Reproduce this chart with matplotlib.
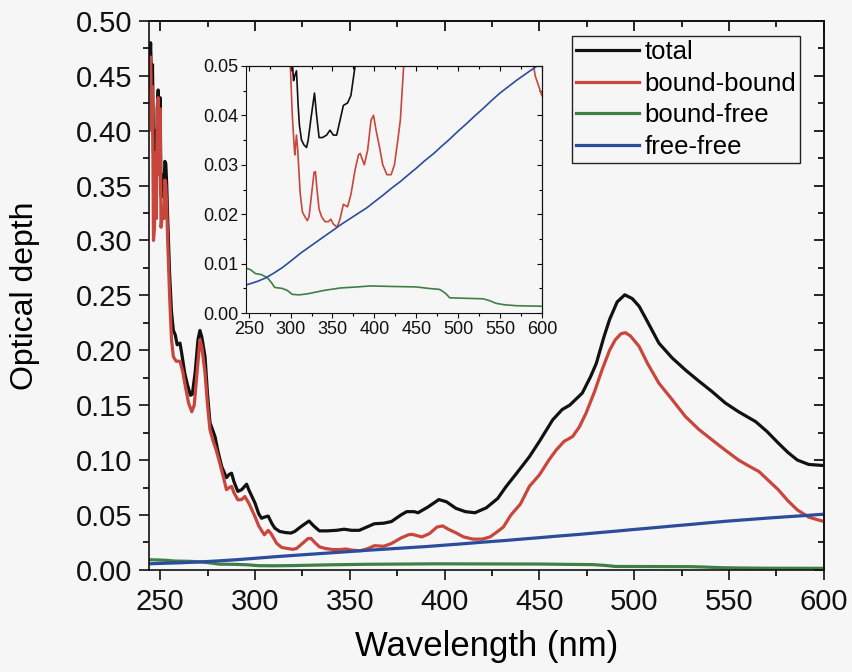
import matplotlib
matplotlib.use("Agg")
import matplotlib.pyplot as plt
from matplotlib.ticker import MultipleLocator, FormatStrFormatter

plt.rcParams['font.family'] = ['Liberation Sans', 'DejaVu Sans']

# wavelength (nm) / optical depth
total_wl = [244.3, 245.0, 245.5, 246.0, 246.5, 247.0, 247.5, 248.0, 248.5, 249.0, 249.5,
            250.0, 250.5, 251.0, 251.5, 252.0, 252.5, 253.0, 253.5, 254.0, 255.0, 256.0,
            257.0, 258.0, 259.0, 260.5, 261.5, 263.0, 264.5, 266.0, 267.0, 268.5, 270.0,
            271.0, 272.0, 273.7, 275.0, 276.3, 278.0, 279.0, 280.5, 282.5, 285.0, 286.5,
            287.7, 289.0, 291.0, 293.0, 295.6, 297.0, 300.0, 302.0, 303.5, 305.0, 307.0,
            309.0, 310.5, 313.0, 316.0, 319.0, 321.0, 324.0, 328.5, 331.0, 334.0, 338.0,
            343.0, 347.0, 351.0, 355.0, 359.0, 363.0, 368.0, 372.0, 377.0, 380.0, 384.0,
            386.0, 391.0, 397.0, 401.0, 406.0, 411.0, 416.0, 422.0, 428.0, 432.5, 438.0,
            444.7, 450.0, 457.0, 462.0, 466.0, 472.6, 477.0, 480.0, 484.0, 487.0, 491.0,
            495.0, 499.0, 502.6, 507.0, 513.0, 520.0, 527.0, 534.0, 541.0, 548.0, 555.0,
            560.0, 564.0, 570.0, 576.0, 581.0, 586.0, 592.0, 600.0]
total = [0.45, 0.48, 0.44, 0.46, 0.38, 0.36, 0.40, 0.33, 0.42, 0.437, 0.40,
         0.43, 0.34, 0.34, 0.36, 0.34, 0.372, 0.37, 0.35, 0.32, 0.27, 0.235,
         0.218, 0.214, 0.205, 0.2065, 0.196, 0.179, 0.168, 0.159, 0.160, 0.18, 0.21,
         0.218, 0.212, 0.194, 0.16, 0.134, 0.126, 0.121, 0.108, 0.094, 0.084, 0.087,
         0.088, 0.080, 0.0715, 0.073, 0.078, 0.072, 0.061, 0.051, 0.047, 0.048, 0.049,
         0.042, 0.038, 0.035, 0.034, 0.0335, 0.035, 0.039, 0.0445, 0.040, 0.0355, 0.0355,
         0.036, 0.037, 0.036, 0.036, 0.039, 0.042, 0.0425, 0.044, 0.050, 0.053, 0.053,
         0.052, 0.057, 0.064, 0.062, 0.056, 0.053, 0.052, 0.0565, 0.065, 0.076, 0.088,
         0.103, 0.117, 0.1366, 0.146, 0.150, 0.161, 0.176, 0.188, 0.212, 0.228, 0.244,
         0.2505, 0.247, 0.240, 0.226, 0.2065, 0.193, 0.182, 0.172, 0.1624, 0.152, 0.144,
         0.139, 0.135, 0.126, 0.1154, 0.107, 0.100, 0.096, 0.095]

bb_wl = [244.3, 245.0, 245.5, 246.0, 246.5, 247.0, 247.5, 248.0, 248.5, 249.0, 249.5,
         250.0, 250.5, 251.0, 251.5, 252.0, 252.5, 253.0, 253.5, 254.0, 255.0, 256.0,
         257.0, 258.5, 260.5, 262.0, 263.0, 265.0, 266.7, 268.0, 269.5, 271.0, 272.0,
         273.7, 275.0, 276.3, 278.0, 279.6, 281.5, 283.3, 285.0, 286.5, 287.7, 289.0,
         291.0, 293.0, 294.7, 297.0, 300.0, 302.0, 304.4, 305.0, 307.0, 308.5, 311.4,
         314.0, 317.0, 320.0, 322.0, 325.0, 328.0, 329.6, 331.5, 334.0, 337.0, 341.0,
         345.0, 348.0, 351.0, 355.5, 359.0, 363.0, 368.0, 372.0, 377.0, 381.0, 383.0,
         388.0, 392.0, 396.0, 399.0, 402.0, 406.0, 410.0, 415.0, 420.0, 424.0, 428.0,
         431.0, 435.0, 440.0, 444.7, 450.0, 455.0, 458.8, 463.0, 467.5, 471.0, 474.6,
         479.0, 483.0, 487.0, 490.0, 493.0, 495.3, 498.0, 502.6, 507.0, 513.0, 520.0,
         527.0, 534.0, 541.0, 548.0, 555.0, 560.0, 565.8, 571.0, 576.0, 581.0, 586.0,
         592.0, 600.0]
bound_bound = [0.44, 0.467, 0.40, 0.44, 0.30, 0.31, 0.38, 0.32, 0.42, 0.43, 0.36,
               0.42, 0.312, 0.32, 0.33, 0.32, 0.355, 0.35, 0.33, 0.30, 0.25, 0.21,
               0.194, 0.19, 0.19, 0.18, 0.170, 0.152, 0.144, 0.15, 0.18, 0.2095, 0.203,
               0.179, 0.15, 0.1275, 0.117, 0.109, 0.097, 0.085, 0.073, 0.075, 0.076, 0.070,
               0.0638, 0.064, 0.0668, 0.060, 0.0486, 0.040, 0.0334, 0.032, 0.036, 0.033, 0.0243,
               0.0205, 0.0195, 0.0187, 0.0195, 0.024, 0.0285, 0.0286, 0.025, 0.021, 0.0195, 0.0185,
               0.0185, 0.019, 0.018, 0.0174, 0.019, 0.022, 0.0215, 0.024, 0.029, 0.032, 0.0323,
               0.030, 0.033, 0.039, 0.040, 0.037, 0.0337, 0.030, 0.028, 0.028, 0.030, 0.035,
               0.039, 0.050, 0.060, 0.076, 0.0865, 0.100, 0.109, 0.117, 0.1214, 0.130, 0.1427,
               0.162, 0.182, 0.200, 0.2095, 0.215, 0.216, 0.213, 0.2034, 0.188, 0.170, 0.155,
               0.1396, 0.128, 0.1184, 0.109, 0.100, 0.095, 0.0895, 0.081, 0.0729, 0.063, 0.0546,
               0.048, 0.044]

bf_wl = [244.3, 247, 252, 258, 265, 272, 277, 281, 290, 296, 302, 310, 320, 340, 360,
         380, 395, 420, 450, 465, 478, 485, 490, 510, 530, 538, 545, 555, 570, 600]
bound_free = [0.0092, 0.0091, 0.0088, 0.0080, 0.0078, 0.0072, 0.0062, 0.0052, 0.0050,
              0.0046, 0.0038, 0.0037, 0.0039, 0.0046, 0.0051, 0.0053, 0.0055, 0.0054,
              0.0053, 0.0050, 0.0048, 0.0040, 0.0031, 0.0030, 0.0029, 0.0025, 0.0020,
              0.0017, 0.0015, 0.0014]

ff_wl = [244.3, 247, 260, 270, 280, 290, 300, 311.7, 320, 330, 340, 351, 360, 370, 380,
         391, 400, 410, 420, 431, 440, 450, 460, 471, 480, 490, 500, 510.6, 520, 530,
         540, 550, 560, 570, 580, 592, 600]
free_free = [0.0055, 0.0057, 0.0064, 0.0071, 0.0081, 0.0092, 0.0105, 0.0121, 0.0131,
             0.0143, 0.0155, 0.0168, 0.0179, 0.0190, 0.0201, 0.0213, 0.0225, 0.0238,
             0.0252, 0.0266, 0.0279, 0.0293, 0.0308, 0.0323, 0.0337, 0.0352, 0.0368,
             0.0384, 0.0399, 0.0414, 0.0430, 0.0445, 0.0458, 0.0471, 0.0483, 0.0497, 0.0507]

labels = ["total", "bound-bound", "bound-free", "free-free"]
colors = ["#111111", "#c9463d", "#3f7f45", "#2c4c9c"]
series = [(total_wl, total), (bb_wl, bound_bound), (bf_wl, bound_free), (ff_wl, free_free)]

bg = "#f6f6f6"


def style_axes(ax, xmaj, xmin, ymaj, ymin, fs, maj_len, min_len, width, pad):
    """outward ticks bottom/left, inward mirror ticks top/right"""
    ax.xaxis.set_major_locator(MultipleLocator(xmaj))
    ax.xaxis.set_minor_locator(MultipleLocator(xmin))
    ax.yaxis.set_major_locator(MultipleLocator(ymaj))
    ax.yaxis.set_minor_locator(MultipleLocator(ymin))
    ax.yaxis.set_major_formatter(FormatStrFormatter('%.2f'))
    ax.tick_params(which='major', direction='out', length=maj_len, width=width,
                   labelsize=fs, colors='#111111', pad=pad)
    ax.tick_params(which='minor', direction='out', length=min_len, width=width)
    for s in ax.spines.values():
        s.set_linewidth(width)
        s.set_color('#111111')
    top = ax.secondary_xaxis('top')
    right = ax.secondary_yaxis('right')
    for sec, axis in ((top, top.xaxis), (right, right.yaxis)):
        axis.set_major_locator(MultipleLocator(xmaj if sec is top else ymaj))
        axis.set_minor_locator(MultipleLocator(xmin if sec is top else ymin))
        sec.tick_params(which='major', direction='in', length=maj_len, width=width,
                        labeltop=False, labelright=False)
        sec.tick_params(which='minor', direction='in', length=min_len, width=width)
        for s in sec.spines.values():
            s.set_linewidth(width)


fig = plt.figure(figsize=(8.52, 6.72), dpi=100, facecolor=bg)
ax = fig.add_axes([0.175, 0.152, 0.792, 0.817], facecolor=bg)

for (wl, vals), lab, col in zip(series, labels, colors):
    ax.plot(wl, vals, color=col, lw=2.3, label=lab, solid_joinstyle='round')

ax.set_xlim(244.2, 600)
ax.set_ylim(0, 0.5)
style_axes(ax, 50, 25, 0.05, 0.025, 21, 7, 4, 1.2, 5)
ax.tick_params(axis='x', which='major', pad=6)
ax.set_xlabel("Wavelength (nm)", fontsize=25, labelpad=10)
ax.set_ylabel("Optical depth", fontsize=23, labelpad=26)

leg = ax.legend(loc='upper right', bbox_to_anchor=(0.9644, 0.9721), borderaxespad=0,
                fontsize=18.5, frameon=True, fancybox=False, handlelength=2.45,
                handletextpad=0.2, borderpad=0.15, labelspacing=0.3)
leg.get_frame().set_edgecolor('#222222')
leg.get_frame().set_linewidth(1.0)
leg.get_frame().set_facecolor(bg)
leg.get_frame().set_alpha(1)

# inset zoom on the low-depth region
axin = fig.add_axes([0.289, 0.534, 0.347, 0.368], facecolor=bg)
for (wl, vals), col in zip(series, colors):
    axin.plot(wl, vals, color=col, lw=1.2)
axin.set_xlim(247, 600)
axin.set_ylim(0, 0.05)
style_axes(axin, 50, 25, 0.01, 0.005, 13, 3.5, 2, 0.8, 2)

fig.savefig("out.png", dpi=100, facecolor=bg)
